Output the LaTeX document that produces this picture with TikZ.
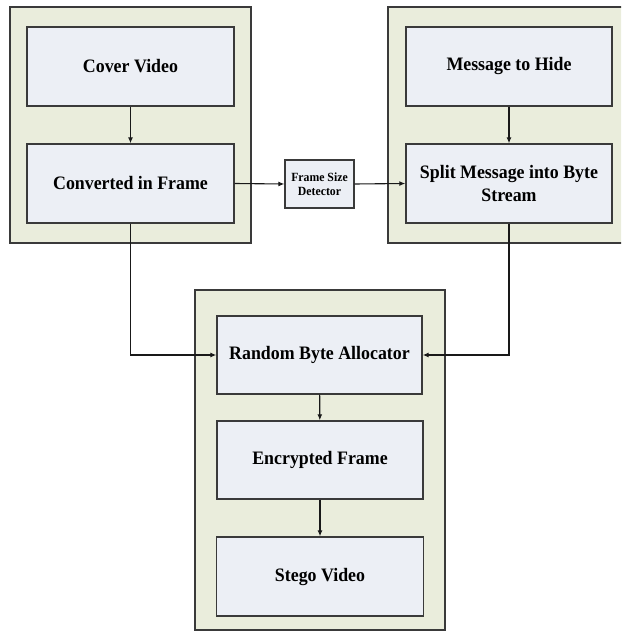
\documentclass[tikz,border=0pt]{standalone}
\usepackage{fontspec}
\setmainfont{Liberation Serif}
\newfontfamily\boxfont[FakeStretch=0.94]{Liberation Serif}
\usetikzlibrary{arrows.meta}
\definecolor{contfill}{HTML}{EAEDDC}
\definecolor{boxfill}{HTML}{ECEFF5}
\definecolor{edge}{HTML}{3A3A3A}
\begin{document}
\begin{tikzpicture}[x=1pt,y=-1pt,
  cont/.style={draw=edge,line width=1.2pt,fill=contfill},
  blk/.style={draw=edge,line width=1.4pt,fill=boxfill,minimum width=207pt,minimum height=79pt,
    font=\boxfont\fontsize{19}{23}\selectfont\bfseries,align=center,inner sep=2pt},
  small/.style={draw=edge,line width=1.3pt,fill=boxfill,minimum width=69pt,minimum height=48pt,
    font=\boxfont\fontsize{12.5}{14.5}\selectfont\bfseries,align=center,inner sep=1pt},
  conn/.style={draw=black!90,line width=1.1pt,-{Latex[length=6pt,width=5pt]}}]
\useasboundingbox (0,0) rectangle (621,631);
\begin{scope}
\clip (0,0) rectangle (621,631);
\draw[cont] (10,7) rectangle (251,243);
\draw[cont] (388,7) rectangle (629,243);
\draw[cont] (195,290) rectangle (445,630);
\end{scope}
\node[blk] (cover) at (130.5,66.5) {Cover Video};
\node[blk] (conv) at (130.5,183.5) {Converted in Frame};
\node[blk,minimum width=206pt] (msg) at (509,66.5) {Message to Hide};
\node[blk,minimum width=206pt] (split) at (509,183.5) {Split Message into Byte\\Stream};
\node[small] (fsd) at (319.5,184) {Frame Size\\Detector};
\node[blk,minimum width=205pt,minimum height=78pt] (rba) at (319.5,355) {Random Byte Allocator};
\node[blk,minimum width=206pt,minimum height=78pt] (enc) at (320,460) {Encrypted Frame};
\node[blk] (stego) at (320,576.5) {Stego Video};
\draw[conn] (cover) -- (conv);
\draw[conn] (msg) -- (split);
\draw[conn] (conv.east) -- (fsd.west);
\draw[conn] (fsd.east) -- (split.west);
\draw[conn] (conv.south) |- (rba.west);
\draw[conn] (split.south) |- (rba.east);
\draw[conn] (rba) -- (enc);
\draw[conn] (enc) -- (stego);
\end{tikzpicture}
\end{document}
